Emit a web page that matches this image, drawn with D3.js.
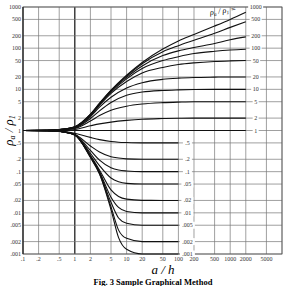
<!DOCTYPE html>
<html>
<head>
<meta charset="utf-8">
<script src="https://cdn.jsdelivr.net/npm/d3@7"></script>
<style>
  body { margin: 0; background: #fff; }
  .grid line { stroke: #777; stroke-width: 0.7; }
  .curve { fill: none; stroke: #111; stroke-width: 1.1; }
  .tick-label { font-family: "Liberation Serif", serif; font-size: 6px; fill: #333; }
</style>
</head>
<body>
<div id="chart"></div>
<script>
"use strict";

// axis ticks
var xTicks = [0.1, 0.2, 0.5, 1, 2, 5, 10, 20, 50, 100, 200, 500, 1000, 2000, 5000];
var xTickLabels = [".1", ".2", ".5", "1", "2", "5", "10", "20", "50", "100", "200", "500", "1000", "2000", "5000"];
var yTicks = [1000, 500, 200, 100, 50, 20, 10, 5, 2, 1, 0.5, 0.2, 0.1, 0.05, 0.02, 0.01, 0.005, 0.002, 0.001];
var yTickLabels = ["1000", "500", "200", "100", "50", "20", "10", "5", "2", "1", ".5", ".2", ".1", ".05", ".02", ".01", ".005", ".002", ".001"];

// curves for rho2/rho1 >= 1, read at these a/h
var upperX = [0.1, 0.3, 0.5, 1, 2, 3, 5, 10, 20, 50, 100, 200, 500, 1000, 2000];
var upperRatios = [1000, 500, 200, 100, 50, 20, 10, 5, 2, 1];
var upperLabels = ["1000", "500", "200", "100", "50", "20", "10", "5", "2", "1"];
var upperValues = [
    [1, 1.01, 1.05, 1.24, 2.5, 4.6, 9.5, 22, 45, 95, 150, 215, 345, 500, 745],
    [1, 1.01, 1.05, 1.23, 2.45, 4.5, 9.3, 21, 42, 82, 115, 155, 230, 320, 440],
    [1, 1.01, 1.05, 1.22, 2.4, 4.4, 9.0, 19.5, 37, 66, 86, 104, 130, 160, 188],
    [1, 1.01, 1.05, 1.21, 2.35, 4.3, 8.6, 18, 32, 50, 62, 74, 84, 90, 94],
    [1, 1.01, 1.04, 1.2, 2.3, 4.1, 8.0, 15.5, 25, 34, 40, 44, 47.5, 49, 50],
    [1, 1.01, 1.04, 1.18, 2.15, 3.7, 6.4, 10.8, 14.5, 17.5, 18.7, 19.4, 19.8, 20, 20],
    [1, 1.01, 1.03, 1.15, 1.95, 3.0, 4.8, 7.2, 8.6, 9.4, 9.7, 9.9, 10, 10, 10],
    [1, 1.01, 1.03, 1.12, 1.7, 2.3, 3.1, 3.9, 4.4, 4.75, 4.9, 5, 5, 5, 5],
    [1, 1.0, 1.02, 1.06, 1.3, 1.45, 1.6, 1.76, 1.88, 1.95, 1.98, 2, 2, 2, 2],
    [1, 1, 1, 1, 1, 1, 1, 1, 1, 1, 1, 1, 1, 1, 1]
];

// curves for rho2/rho1 < 1
var lowerX = [0.1, 0.3, 0.5, 1, 2, 3, 5, 7, 10, 20, 50, 100];
var lowerLabels = [".5", ".2", ".1", ".05", ".02", ".01", ".005", ".002", ".001"];
var lowerValues = [
    [1, 0.99, 0.97, 0.86, 0.68, 0.6, 0.54, 0.52, 0.51, 0.5, 0.5, 0.5],
    [1, 0.99, 0.96, 0.81, 0.42, 0.3, 0.23, 0.215, 0.205, 0.2, 0.2, 0.2],
    [1, 0.99, 0.96, 0.8, 0.33, 0.19, 0.125, 0.11, 0.104, 0.1, 0.1, 0.1],
    [1, 0.99, 0.95, 0.79, 0.28, 0.14, 0.07, 0.057, 0.052, 0.05, 0.05, 0.05],
    [1, 0.99, 0.95, 0.78, 0.25, 0.11, 0.036, 0.025, 0.0215, 0.0201, 0.02, 0.02],
    [1, 0.99, 0.95, 0.78, 0.24, 0.1, 0.024, 0.0135, 0.0108, 0.01, 0.01, 0.01],
    [1, 0.99, 0.95, 0.78, 0.23, 0.095, 0.018, 0.0075, 0.0056, 0.005, 0.005, 0.005],
    [1, 0.99, 0.95, 0.78, 0.23, 0.09, 0.014, 0.0038, 0.0024, 0.002, 0.002, 0.002],
    [1, 0.99, 0.95, 0.78, 0.22, 0.088, 0.012, 0.0025, 0.0013, 0.001, 0.001, 0.001]
];

// set the dimensions and margins of the graph
var margin = { top: 7, right: 4, bottom: 32, left: 23 },
    width = 286 - margin.left - margin.right,
    height = 286 - margin.top - margin.bottom;

// set the ranges
var x = d3.scaleLog().domain([0.1, 10000]).range([0, width]);
var y = d3.scaleLog().domain([0.001, 1000]).range([height, 0]);

var svg = d3.select("#chart").append("svg")
    .attr("width", 286)
    .attr("height", 286)
    .append("g")
    .attr("transform", "translate(" + margin.left + "," + margin.top + ")");

// grid
var grid = svg.append("g").attr("class", "grid");
grid.selectAll(".vx")
    .data(xTicks.concat([10000]))
    .enter().append("line")
    .attr("x1", function (d) { return x(d); })
    .attr("x2", function (d) { return x(d); })
    .attr("y1", 0)
    .attr("y2", height)
    .style("stroke", function (d) { return d === 1 ? "#222" : null; })
    .style("stroke-width", function (d) { return d === 1 ? 1.3 : null; });
grid.selectAll(".hy")
    .data(yTicks)
    .enter().append("line")
    .attr("x1", 0)
    .attr("x2", width)
    .attr("y1", function (d) { return y(d); })
    .attr("y2", function (d) { return y(d); });

// frame
svg.append("rect")
    .attr("width", width)
    .attr("height", height)
    .style("fill", "none")
    .style("stroke", "#555")
    .style("stroke-width", 0.8);
svg.append("line")
    .attr("x1", 0).attr("x2", 0)
    .attr("y1", 0).attr("y2", height)
    .style("stroke", "#222")
    .style("stroke-width", 1.2);

// the curves
var line = d3.line()
    .curve(d3.curveMonotoneX)
    .x(function (d) { return x(d[0]); })
    .y(function (d) { return y(d[1]); });

upperValues.forEach(function (vals) {
    svg.append("path")
        .datum(upperX.map(function (v, i) { return [v, vals[i]]; }))
        .attr("class", "curve")
        .attr("d", line);
});
lowerValues.forEach(function (vals) {
    svg.append("path")
        .datum(lowerX.map(function (v, i) { return [v, vals[i]]; }))
        .attr("class", "curve")
        .attr("d", line);
});

// curve labels with white boxes behind them
function curveLabel(cx, value, txt) {
    var g = svg.append("g");
    var w = txt.length * 3 + 3;
    g.append("rect")
        .attr("x", cx - w / 2)
        .attr("y", y(value) - 3.5)
        .attr("width", w)
        .attr("height", 7)
        .style("fill", "#fff");
    g.append("text")
        .attr("class", "tick-label")
        .attr("x", cx)
        .attr("y", y(value) + 2)
        .attr("text-anchor", "middle")
        .text(txt);
}
upperRatios.forEach(function (r, i) {
    curveLabel(x(3100), r, upperLabels[i]);
});
lowerLabels.forEach(function (t, i) {
    curveLabel(x(100) + 9, lowerValues[i][lowerValues[i].length - 1], t);
});

// rho label near the top curve
svg.append("text")
    .attr("transform", "translate(" + (x(1000) - 20) + "," + 8 + ") rotate(-8)")
    .style("font-family", "Liberation Serif, serif")
    .style("font-style", "italic")
    .style("font-size", "8px")
    .html("&#961;<tspan font-size='5px' dy='1.5'>a</tspan><tspan dy='-1.5'> / &#961;</tspan><tspan font-size='5px' dy='1.5'>1</tspan><tspan dy='-1.5'> =</tspan>");

// Add the Y tick labels
svg.selectAll(".ylab")
    .data(yTicks)
    .enter().append("text")
    .attr("class", "tick-label")
    .attr("x", -2)
    .attr("y", function (d) { return y(d) + 2; })
    .attr("text-anchor", "end")
    .text(function (d, i) { return yTickLabels[i]; });

// Add the X tick labels
svg.selectAll(".xlab")
    .data(xTicks)
    .enter().append("text")
    .attr("class", "tick-label")
    .attr("x", function (d) { return x(d); })
    .attr("y", height + 7)
    .attr("text-anchor", "middle")
    .text(function (d, i) { return xTickLabels[i]; });

// axis titles
svg.append("text")
    .attr("x", 140)
    .attr("y", height + 19.5)
    .attr("text-anchor", "middle")
    .style("font-family", "Liberation Serif, serif")
    .style("font-style", "italic")
    .style("font-size", "13px")
    .text("a / h");

svg.append("text")
    .attr("transform", "translate(" + (-10) + "," + y(1) + ") rotate(-90)")
    .attr("text-anchor", "middle")
    .style("font-family", "Liberation Serif, serif")
    .style("font-style", "italic")
    .style("font-size", "13px")
    .html("&#961;<tspan font-size='8px' dy='2'>a</tspan><tspan dy='-2'> / &#961;</tspan><tspan font-size='8px' dy='2'>1</tspan>");

// figure caption
svg.append("text")
    .attr("x", 130)
    .attr("y", height + 31)
    .attr("text-anchor", "middle")
    .style("font-family", "Liberation Serif, serif")
    .style("font-weight", "bold")
    .style("font-size", "8.5px")
    .text("Fig. 3 Sample Graphical Method");
</script>
</body>
</html>
